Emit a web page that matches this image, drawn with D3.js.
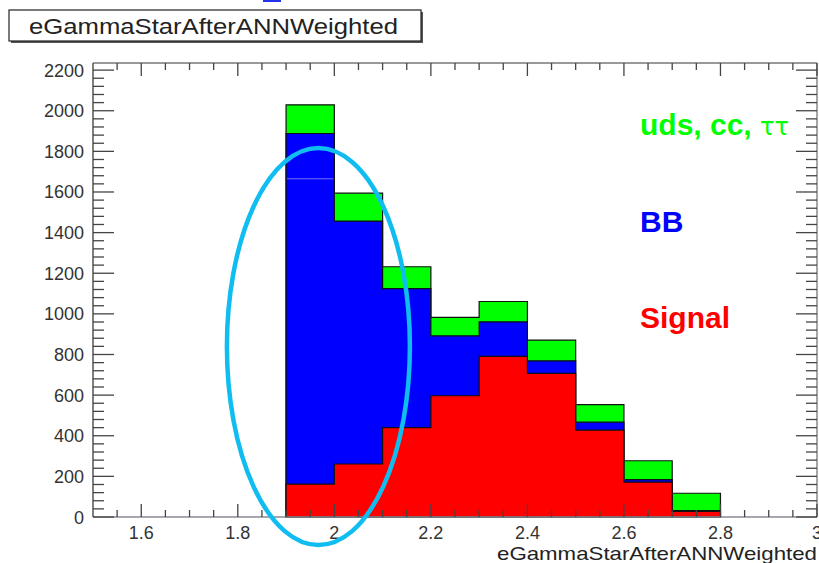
<!DOCTYPE html>
<html><head><meta charset="utf-8">
<script src="https://cdn.jsdelivr.net/npm/d3@7"></script>
<style>html,body{margin:0;padding:0;background:#fff;}svg{display:block;font-family:"Liberation Sans",Arial,sans-serif;}</style>
</head><body>
<script>
// ---- data ----
const binLow = [1.9, 2.0, 2.1, 2.2, 2.3, 2.4, 2.5, 2.6, 2.7];
const binWidth = 0.1;
const signal   = [162, 261, 440, 597, 791, 707, 428, 172, 28];
const bb       = [1726, 1196, 684, 295, 170, 62, 39, 12, 4];
const udsccTau = [141, 137, 108, 91, 100, 102, 86, 93, 85];
const seriesNames = ["Signal", "BB", "uds, cc, ττ"];
const seriesColors = ["#ff0000", "#0000ff", "#00ff00"];
const xTickValues = [1.6, 1.8, 2.0, 2.2, 2.4, 2.6, 2.8, 3.0];
const xTickLabels = ["1.6", "1.8", "2", "2.2", "2.4", "2.6", "2.8", "3"];
const yTickValues = [0, 200, 400, 600, 800, 1000, 1200, 1400, 1600, 1800, 2000, 2200];
const titleText = "eGammaStarAfterANNWeighted";
const xTitle = "eGammaStarAfterANNWeighted";

const W = 819, H = 563;
const svg = d3.select("body").append("svg").attr("width", W).attr("height", H);

const x = d3.scaleLinear().domain([1.5, 3.0]).range([93, 817]);
const y = d3.scaleLinear().domain([0, 2235]).range([517, 63]);

// stacked cumulative values
const rows = binLow.map((lo, i) => ({lo, Signal: signal[i], BB: bb[i], "uds, cc, ττ": udsccTau[i]}));
const stacked = d3.stack().keys(seriesNames)(rows);

function stepPoints(layer) {
  const pts = [[binLow[0], 0]];
  layer.forEach(d => { pts.push([d.data.lo, d[1]]); pts.push([d.data.lo + binWidth, d[1]]); });
  pts.push([binLow[binLow.length - 1] + binWidth, 0]);
  return pts;
}
const line = d3.line().x(p => x(p[0])).y(p => y(p[1]));

// draw largest (cumulative) first
for (let k = stacked.length - 1; k >= 0; k--) {
  svg.append("path")
    .attr("d", line(stepPoints(stacked[k])) + "Z")
    .attr("fill", seriesColors[k])
    .attr("stroke", "#111")
    .attr("stroke-width", 1.2)
    .attr("stroke-linejoin", "miter");
}
// faint artifact line in first bin
svg.append("line")
  .attr("x1", x(binLow[0]) + 1).attr("x2", x(binLow[0] + binWidth) - 1)
  .attr("y1", y(1665)).attr("y2", y(1665))
  .attr("stroke", "#ffffff").attr("stroke-opacity", 0.45).attr("stroke-width", 1);

// ---- frame & axes ----
const g = svg.append("g");
g.append("line").attr("x1", x(1.5)).attr("x2", x(3)).attr("y1", y.range()[1]).attr("y2", y.range()[1]).attr("stroke", "#777").attr("stroke-width", 1.3);
g.append("line").attr("x1", x(3)).attr("x2", x(3)).attr("y1", y.range()[0]).attr("y2", y.range()[1]).attr("stroke", "#777").attr("stroke-width", 1.3);
g.append("line").attr("x1", x(1.5)).attr("x2", x(3)).attr("y1", y(0)).attr("y2", y(0)).attr("stroke", "#8a8a95").attr("stroke-width", 1.5);
g.append("line").attr("x1", x(1.5)).attr("x2", x(1.5)).attr("y1", y.range()[0]).attr("y2", y.range()[1]).attr("stroke", "#555").attr("stroke-width", 1.5);

const tickColor = "#444";
// y ticks
const yMinor = d3.range(0, 2235, 40);
yMinor.forEach(v => {
  const major = v % 200 === 0;
  const len = major ? 21 : 11;
  g.append("line").attr("x1", x(1.5)).attr("x2", x(1.5) + len).attr("y1", y(v)).attr("y2", y(v)).attr("stroke", tickColor).attr("stroke-width", 1.3);
  g.append("line").attr("x1", x(3)).attr("x2", x(3) - len).attr("y1", y(v)).attr("y2", y(v)).attr("stroke", tickColor).attr("stroke-width", 1.3);
});
// x ticks
const xMinor = d3.range(1.55, 3.0001, 0.05);
xMinor.forEach(v => {
  const major = Math.abs(Math.round(v * 5) - v * 5) < 1e-6;
  const len = major ? 13 : 7;
  g.append("line").attr("x1", x(v)).attr("x2", x(v)).attr("y1", y(0)).attr("y2", y(0) - len).attr("stroke", tickColor).attr("stroke-width", 1.3);
  g.append("line").attr("x1", x(v)).attr("x2", x(v)).attr("y1", y.range()[1]).attr("y2", y.range()[1] + len).attr("stroke", tickColor).attr("stroke-width", 1.3);
});

// tick labels
yTickValues.forEach(v => {
  svg.append("text").attr("x", 84).attr("y", y(v) + 6.5).attr("text-anchor", "end")
    .attr("font-size", 18).attr("fill", "#333").text(String(v));
});
xTickValues.forEach((v, i) => {
  svg.append("text").attr("x", x(v)).attr("y", 539).attr("text-anchor", "middle")
    .attr("font-size", 18).attr("fill", "#333").text(xTickLabels[i]);
});

// x axis title
svg.append("text").attr("x", 497).attr("y", 560).attr("font-size", 18.5).attr("fill", "#222")
  .attr("textLength", 320).attr("lengthAdjust", "spacingAndGlyphs").text(xTitle);

// title box
svg.append("rect").attr("x", 263).attr("y", 0).attr("width", 18).attr("height", 2).attr("fill", "#2233ee");
svg.append("rect").attr("x", 11).attr("y", 12).attr("width", 412).attr("height", 31).attr("fill", "#555");
svg.append("rect").attr("x", 9).attr("y", 10).attr("width", 412).attr("height", 31).attr("fill", "#fff").attr("stroke", "#222").attr("stroke-width", 1.2);
svg.append("text").attr("x", 29).attr("y", 34).attr("font-size", 22).attr("fill", "#222")
  .attr("textLength", 369).attr("lengthAdjust", "spacingAndGlyphs").text(titleText);

// legend texts
const leg = svg.append("g").attr("font-weight", "bold").attr("font-size", 30);
const t1 = leg.append("text").attr("x", 640).attr("y", 135).attr("fill", seriesColors[2]);
t1.append("tspan").text("uds, cc, ");
t1.append("tspan").attr("font-weight", "normal").attr("font-size", 24).attr("font-family", "DejaVu Sans").text("ττ");
leg.append("text").attr("x", 640).attr("y", 232).attr("fill", seriesColors[1]).text("BB");
leg.append("text").attr("x", 640).attr("y", 328).attr("fill", seriesColors[0]).text("Signal");

// cyan ellipse annotation
svg.append("ellipse").attr("cx", x(1.967)).attr("cy", y(839)).attr("rx", 91.5).attr("ry", 198.5)
  .attr("fill", "none").attr("stroke", "#10bdf0").attr("stroke-width", 4.5);
</script>
</body></html>
